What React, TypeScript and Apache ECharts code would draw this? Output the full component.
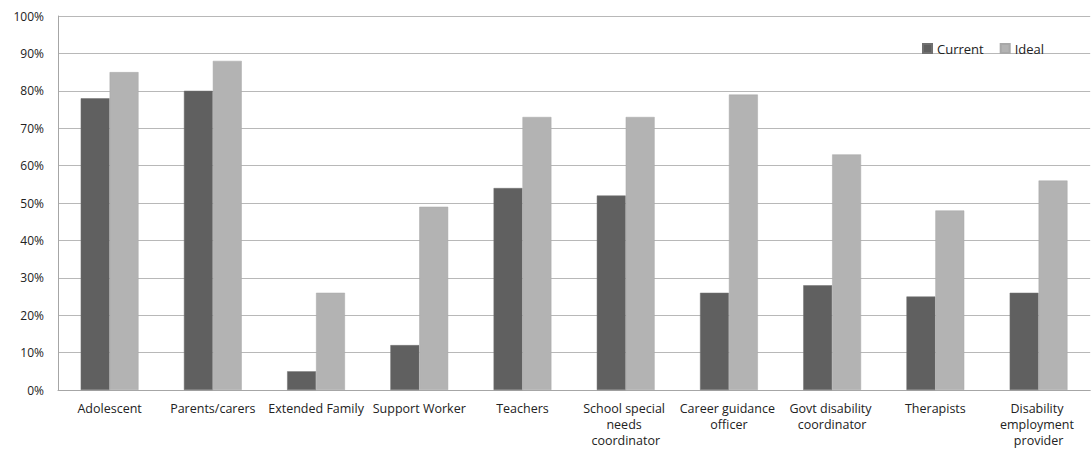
import React, { useEffect, useRef } from "react";
import * as echarts from "echarts";

const categories = [
  "Adolescent",
  "Parents/carers",
  "Extended Family",
  "Support Worker",
  "Teachers",
  "School special needs coordinator",
  "Career guidance officer",
  "Govt disability coordinator",
  "Therapists",
  "Disability employment provider",
];
const currentValues = [78, 80, 5, 12, 54, 52, 26, 28, 25, 26];
const idealValues = [85, 88, 26, 49, 73, 73, 79, 63, 48, 56];

const FONT = "'Open Sans', 'Noto Sans', sans-serif";

export default function App() {
  const ref = useRef<HTMLDivElement>(null);

  useEffect(() => {
    document.body.style.margin = "0";
    const chart = echarts.init(ref.current!, null, { renderer: "svg" });
    chart.setOption({
      animation: false,
      backgroundColor: "#ffffff",
      textStyle: { fontFamily: FONT },
      legend: {
        left: 917,
        top: 37,
        itemWidth: 9,
        itemHeight: 9,
        itemGap: 16,
        icon: "rect",
        textStyle: { fontFamily: FONT, fontSize: 13, color: "#222" },
        data: ["Current", "Ideal"],
      },
      grid: { left: 58, right: 0, top: 16, bottom: 63 },
      xAxis: {
        type: "category",
        data: categories,
        axisLine: { lineStyle: { color: "#a6a6a6", width: 1 } },
        axisTick: { show: false },
        axisLabel: {
          interval: 0,
          margin: 10,
          width: 101,
          overflow: "break",
          lineHeight: 16,
          fontFamily: FONT,
          fontSize: 12.5,
          color: "#222",
        },
      },
      yAxis: {
        type: "value",
        min: 0,
        max: 100,
        interval: 10,
        axisLine: { show: true, lineStyle: { color: "#a6a6a6", width: 1 } },
        axisTick: { show: false },
        splitLine: { lineStyle: { color: "#b8b8b8", width: 1 } },
        axisLabel: {
          margin: 14,
          formatter: "{value}%",
          fontFamily: FONT,
          fontSize: 12,
          color: "#222",
        },
      },
      series: [
        {
          name: "Current",
          type: "bar",
          data: currentValues,
          barGap: "0%",
          barCategoryGap: "44%",
          itemStyle: { color: "#606060", borderColor: "#707070", borderWidth: 0.5 },
        },
        {
          name: "Ideal",
          type: "bar",
          data: idealValues,
          itemStyle: { color: "#b3b3b3", borderColor: "#a8a8a8", borderWidth: 0.5 },
        },
      ],
    });
    return () => chart.dispose();
  }, []);

  return (
    <div
      ref={ref}
      style={{ position: "absolute", left: 0, top: 0, width: 1092, height: 453 }}
    />
  );
}
